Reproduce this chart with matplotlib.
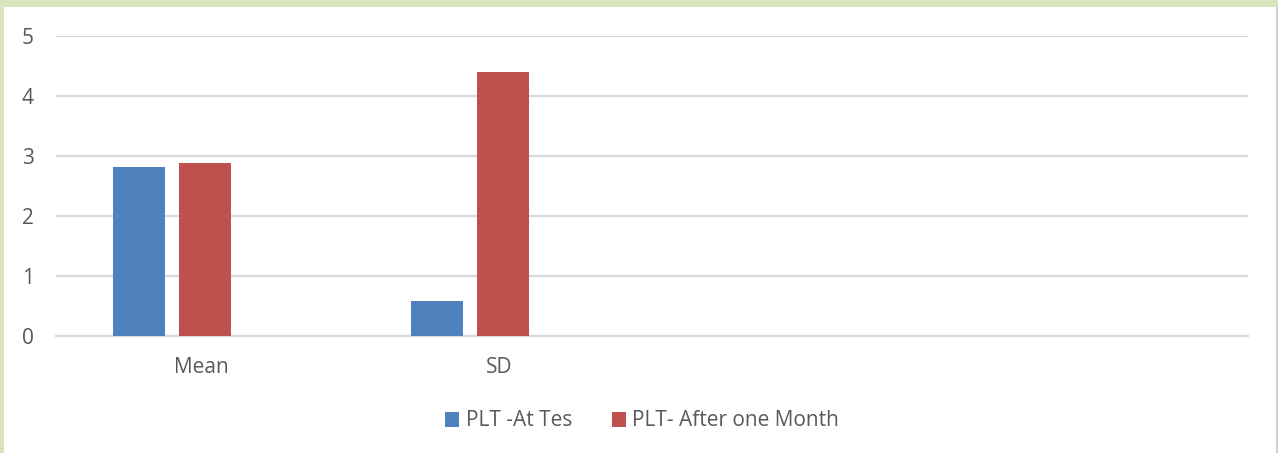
import matplotlib
matplotlib.use("Agg")
import matplotlib.pyplot as plt
import numpy as np
from matplotlib.patches import Rectangle

# ── Data ──────────────────────────────────────────────────────────────
categories = ["Mean", "SD", "", ""]
at_test = [2.81, 0.58, np.nan, np.nan]
after_month = [2.89, 4.40, np.nan, np.nan]
series_names = ["PLT -At Tes", "PLT- After one Month"]
y_ticks = [0, 1, 2, 3, 4, 5]

BLUE = "#4F81BD"
RED = "#C0504D"
TEXT = "#595959"
GRID = "#D9D9D9"

plt.rcParams["font.family"] = ["Open Sans", "DejaVu Sans"]

W, H = 1278, 453
fig = plt.figure(figsize=(W / 100, H / 100), dpi=100)
fig.patch.set_facecolor("#D7E4BD")

# white chart panel with thin grey right edge
fig.add_artist(Rectangle((4 / W, 0), 1272 / W, 446 / H, transform=fig.transFigure,
                         facecolor="white", edgecolor="none", zorder=0))
fig.add_artist(Rectangle((1276 / W, 0), 2 / W, 446 / H, transform=fig.transFigure,
                         facecolor="#D0D0D0", edgecolor="none", zorder=0))

ax = fig.add_axes([56 / W, 117 / H, 1192 / W, 300 / H])
ax.set_facecolor("none")

x = np.arange(len(categories))
bw = 0.175
step = 0.2215
ax.bar(x - step, at_test, bw, color=BLUE, label=series_names[0], zorder=3)
ax.bar(x, after_month, bw, color=RED, label=series_names[1], zorder=3)

ax.set_xlim(-0.5, len(categories) - 0.5)
ax.set_ylim(0, 5)
ax.set_yticks(y_ticks)
ax.set_xticks(x - 0.012)
ax.set_xticklabels(categories)
ax.tick_params(axis="both", length=0, labelsize=15, colors=TEXT)
ax.tick_params(axis="y", pad=16)
ax.tick_params(axis="x", pad=15)
ax.yaxis.grid(True, color=GRID, linewidth=1.6, zorder=0)
for side in ["top", "right", "left"]:
    ax.spines[side].set_visible(False)
ax.spines["bottom"].set_color(GRID)
ax.spines["bottom"].set_linewidth(1.6)

handles, labels = ax.get_legend_handles_labels()
fig.legend(handles, labels, loc="center", bbox_to_anchor=(642 / W, 1 - 421 / H),
           ncol=2, frameon=False, fontsize=15, labelcolor=TEXT,
           handlelength=0.7, handleheight=0.7, handletextpad=0.3, columnspacing=1.9)

fig.savefig("out.png", dpi=100, facecolor=fig.get_facecolor())
